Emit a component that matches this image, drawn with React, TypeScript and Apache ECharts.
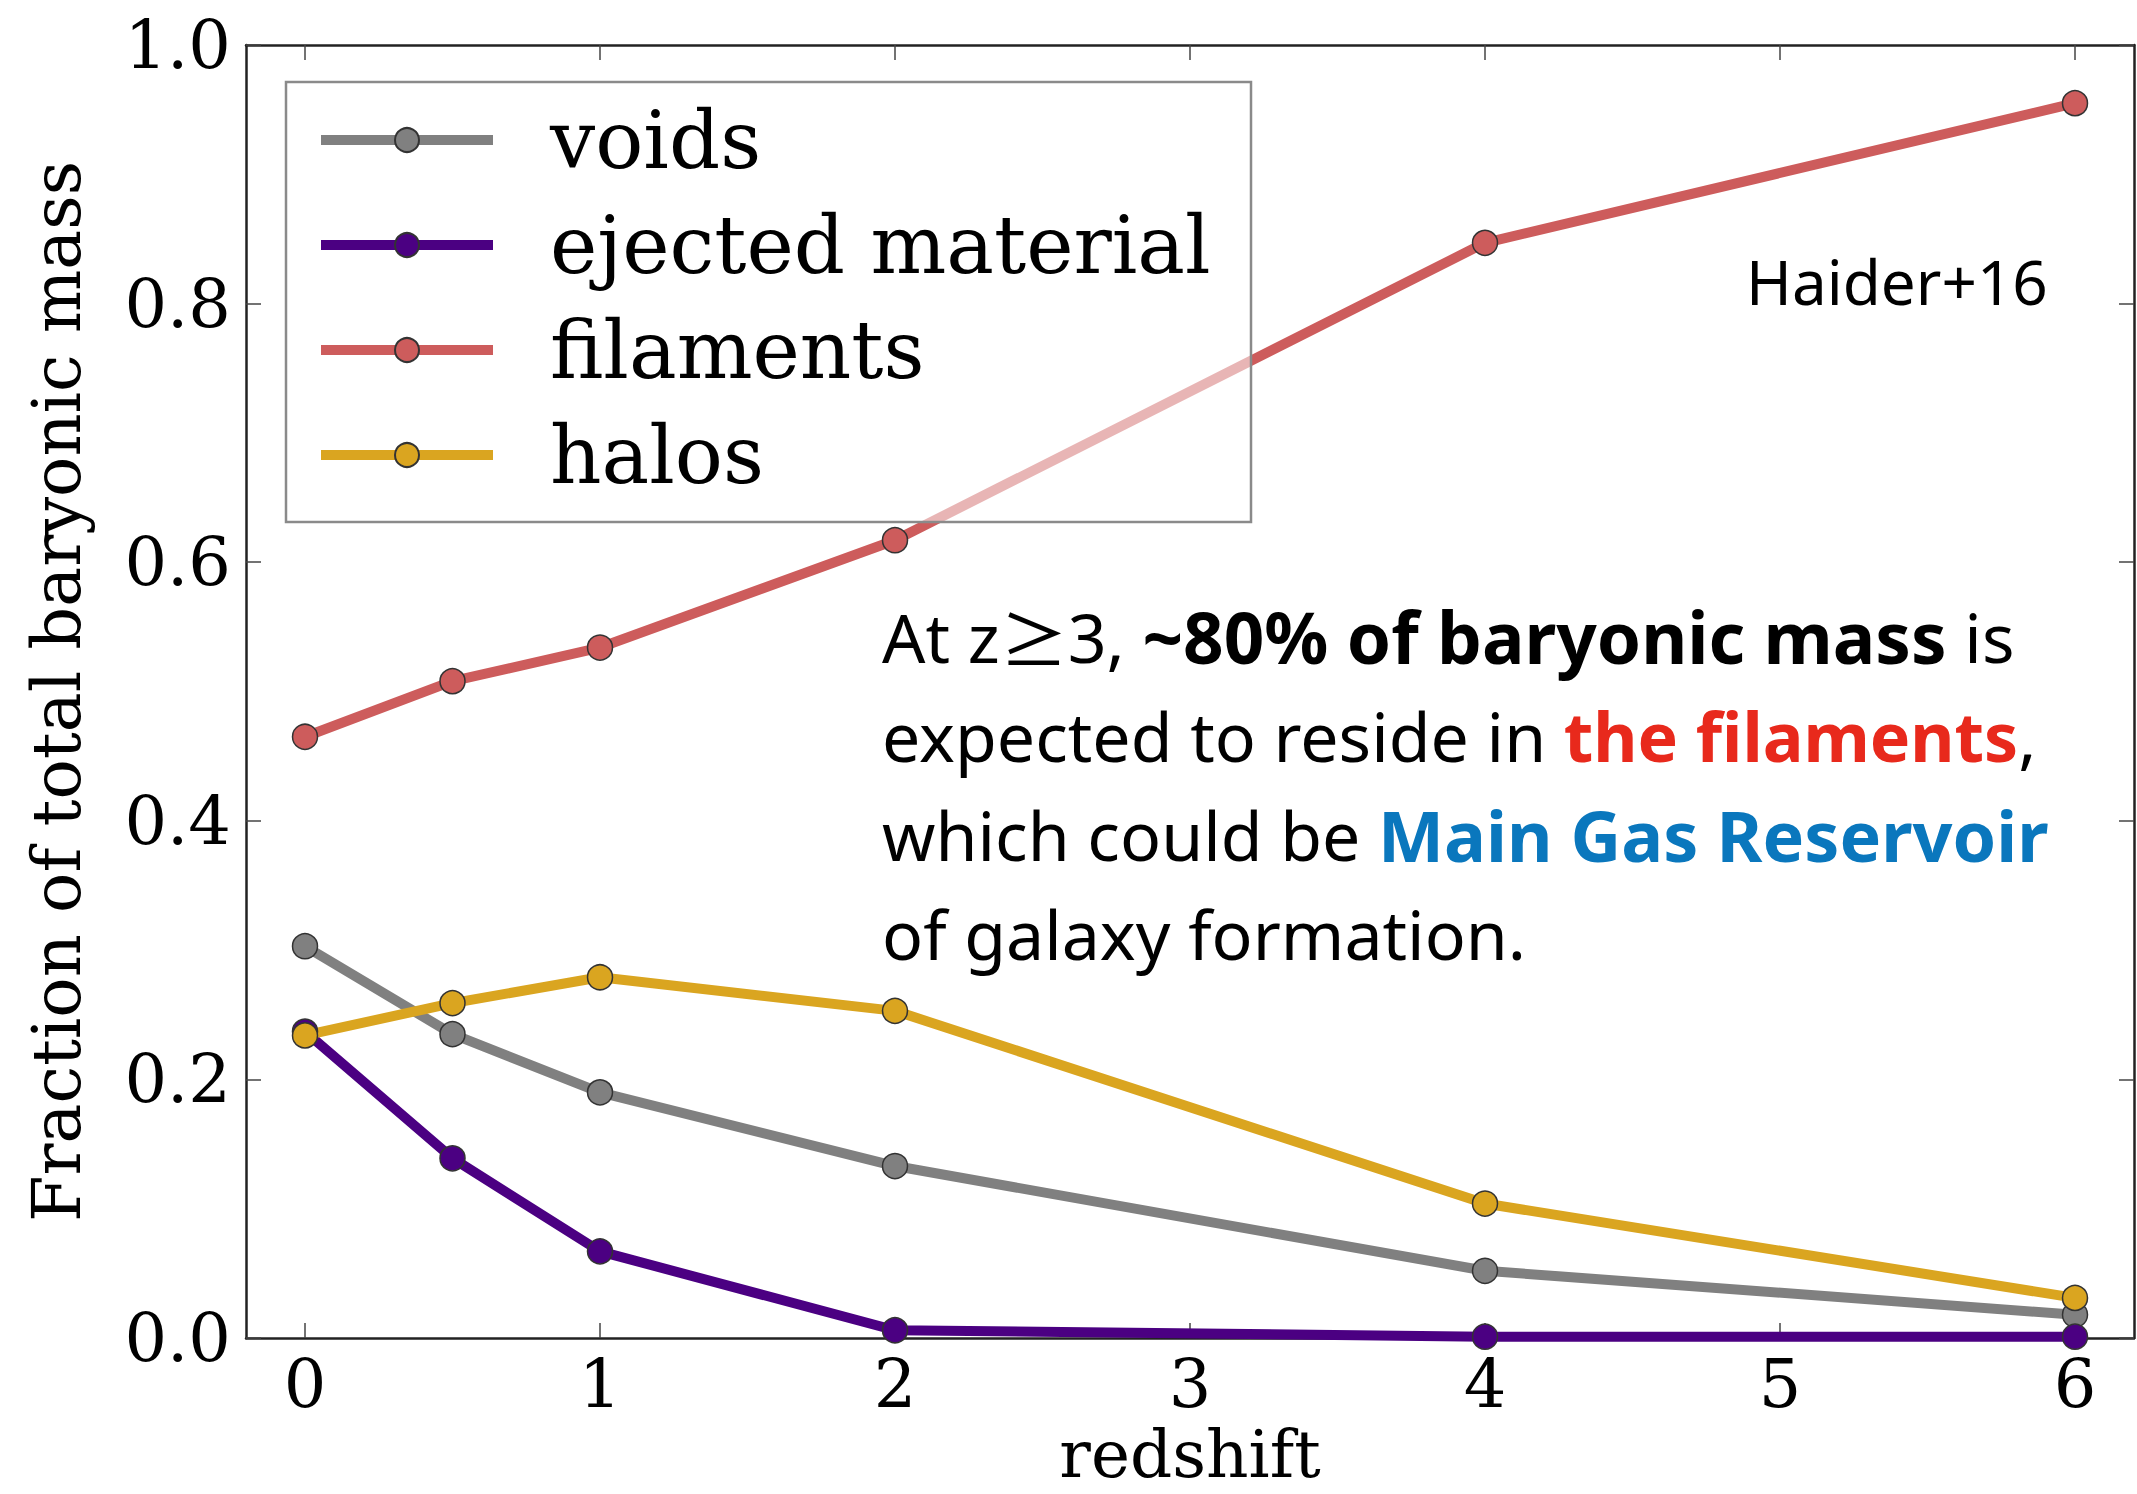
import React, { useEffect, useRef } from "react";
import * as echarts from "echarts";

const redshift = [0, 0.5, 1, 2, 4, 6];
const voids = [0.303, 0.235, 0.19, 0.133, 0.052, 0.018];
const ejected = [0.237, 0.139, 0.067, 0.006, 0.001, 0.001];
const filaments = [0.465, 0.508, 0.534, 0.617, 0.847, 0.955];
const halos = [0.234, 0.259, 0.279, 0.253, 0.104, 0.031];
const xTicks = [0, 1, 2, 3, 4, 5, 6];

const seriesNames = ["voids", "ejected material", "filaments", "halos"];
const seriesValues = [voids, ejected, filaments, halos];
const seriesColors = ["#808080", "#4B0082", "#CD5C5C", "#DAA520"];

const SERIF = "DejaVu Serif";
const SANS = "Noto Sans";
const CJK = "Noto Sans CJK JP";

export default function App() {
  const ref = useRef<HTMLDivElement>(null);
  useEffect(() => {
    if (!ref.current) return;
    const chart = echarts.init(ref.current, null, { renderer: "svg" });
    const axisLineStyle = { color: "#222", width: 2.5 };
    const tickStyle = { color: "#444", width: 1.5 };
    const labelStyle = { fontFamily: SERIF, fontSize: 67, color: "#000" };
    const FS = 68;
    const LH = 99;
    const option: any = {
      animation: false,
      backgroundColor: "#fff",
      grid: { left: 246, top: 45, right: 3, bottom: 156, containLabel: false, outerBoundsMode: "none" },
      xAxis: [
        {
          type: "value",
          min: -0.2,
          max: 6.2,
          position: "bottom",
          axisLine: { show: true, onZero: false, lineStyle: axisLineStyle },
          axisTick: { show: true, inside: true, length: 15, customValues: xTicks, lineStyle: tickStyle },
          axisLabel: { show: true, customValues: xTicks, margin: 12, ...labelStyle },
          splitLine: { show: false },
          name: "redshift",
          nameLocation: "middle",
          nameGap: 81,
          nameTextStyle: { ...labelStyle, fontSize: 66, lineHeight: 66 },
        },
        {
          type: "value",
          min: -0.2,
          max: 6.2,
          position: "top",
          axisLine: { show: true, onZero: false, lineStyle: axisLineStyle },
          axisTick: { show: true, inside: true, length: 15, customValues: xTicks, lineStyle: tickStyle },
          axisLabel: { show: false },
          splitLine: { show: false },
        },
      ],
      yAxis: [
        {
          type: "value",
          min: 0,
          max: 1,
          interval: 0.2,
          position: "left",
          axisLine: { show: true, onZero: false, lineStyle: axisLineStyle },
          axisTick: { show: true, inside: true, length: 15, lineStyle: tickStyle },
          axisLabel: { show: true, margin: 15, formatter: (v: number) => v.toFixed(1), ...labelStyle },
          splitLine: { show: false },
          name: "Fraction of total baryonic mass",
          nameLocation: "middle",
          nameGap: 156,
          nameRotate: 90,
          nameTextStyle: { ...labelStyle },
        },
        {
          type: "value",
          min: 0,
          max: 1,
          interval: 0.2,
          position: "right",
          axisLine: { show: true, onZero: false, lineStyle: axisLineStyle },
          axisTick: { show: true, inside: true, length: 15, lineStyle: tickStyle },
          axisLabel: { show: false },
          splitLine: { show: false },
        },
      ],
      legend: {
        show: true,
        orient: "vertical",
        left: 286,
        top: 82,
        padding: [18, 0, 0, 30],
        itemGap: 25,
        itemWidth: 172,
        itemHeight: 30,
        selectedMode: false,
        lineStyle: { width: 10 },
        textStyle: { fontFamily: SERIF, fontSize: 80, lineHeight: 80, color: "#000", padding: [0, 0, 0, 52] },
        data: seriesNames,
      },
      graphic: [
        {
          type: "rect",
          z: 3,
          shape: { x: 286, y: 82, width: 965, height: 440 },
          style: { fill: "rgba(255,255,255,0.55)", stroke: "#8a8a8a", lineWidth: 2.5 },
          silent: true,
        },
        {
          type: "text",
          z: 5,
          x: 882,
          y: 587,
          style: {
            text:
              "{n|At z}{g|≥}{n|3, }{b|~80% of baryonic mass}{n| is}\n" +
              "{n|expected to reside in }{r|the filaments}{n|,}\n" +
              "{n|which could be }{bl|Main Gas Reservoir}\n" +
              "{n|of galaxy formation.}",
            fontFamily: SANS,
            fontSize: FS,
            lineHeight: LH,
            fill: "#000",
            rich: {
              n: { fontFamily: SANS, fontSize: FS, lineHeight: LH, fill: "#000" },
              g: { fontFamily: CJK, fontSize: FS, lineHeight: LH, fill: "#000" },
              b: { fontFamily: SANS, fontSize: 71, lineHeight: LH, fill: "#000", fontWeight: "bold" },
              r: { fontFamily: SANS, fontSize: FS, lineHeight: LH, fill: "#E8291C", fontWeight: "bold" },
              bl: { fontFamily: SANS, fontSize: 70, lineHeight: LH, fill: "#0A77BD", fontWeight: "bold" },
            },
          },
        },
        {
          type: "text",
          z: 5,
          x: 1746,
          y: 281,
          style: {
            text: "Haider+16",
            fontFamily: SANS,
            fontSize: 62,
            fill: "#000",
            verticalAlign: "middle",
          },
        },
      ],
      series: seriesNames.map((name, i) => ({
        name,
        type: "line",
        xAxisIndex: 0,
        yAxisIndex: 0,
        data: redshift.map((z, j) => [z, seriesValues[i][j]]),
        symbol: "circle",
        symbolSize: 25,
        showSymbol: true,
        lineStyle: { color: seriesColors[i], width: 10 },
        itemStyle: { color: seriesColors[i], borderColor: "#333", borderWidth: 1.5 },
        emphasis: { disabled: true },
        z: 2,
      })),
    };
    chart.setOption(option);
    return () => chart.dispose();
  }, []);
  return (
    <div
      ref={ref}
      style={{ position: "fixed", left: 0, top: 0, width: 2137, height: 1494, background: "#fff" }}
    />
  );
}
